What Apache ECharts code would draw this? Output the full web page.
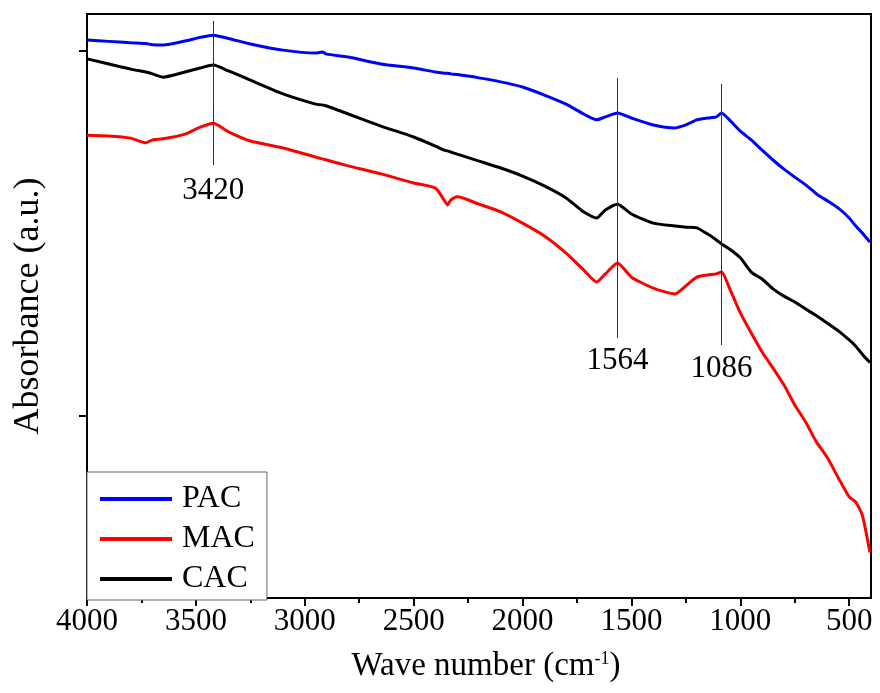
<!DOCTYPE html>
<html>
<head>
<meta charset="utf-8">
<script src="https://cdn.jsdelivr.net/npm/echarts@6/dist/echarts.min.js"></script>
<style>
  html, body { margin: 0; padding: 0; background: #fff; }
  #chart { width: 880px; height: 693px; }
</style>
</head>
<body>
<div id="chart"></div>
<script>
// FTIR spectra of the three activated carbons (absorbance, arbitrary units)
const wavenumbers = [4000, 3900, 3800, 3730, 3700, 3650, 3550, 3480, 3420, 3350, 3250, 3100, 2950, 2920, 2900, 2800, 2650, 2500, 2400, 2360, 2345, 2330, 2300, 2200, 2100, 2000, 1900, 1800, 1720, 1660, 1620, 1564, 1500, 1400, 1300, 1250, 1200, 1150, 1110, 1086, 1050, 1000, 950, 900, 850, 800, 750, 700, 650, 600, 550, 500, 470, 440, 405];

const pac = [1.529, 1.525, 1.521, 1.519, 1.516, 1.515, 1.526, 1.536, 1.542, 1.533, 1.518, 1.501, 1.493, 1.496, 1.490, 1.482, 1.463, 1.452, 1.441, 1.438, 1.438, 1.436, 1.434, 1.425, 1.414, 1.400, 1.378, 1.353, 1.326, 1.310, 1.318, 1.329, 1.315, 1.296, 1.288, 1.296, 1.310, 1.315, 1.318, 1.329, 1.310, 1.279, 1.255, 1.227, 1.200, 1.175, 1.153, 1.132, 1.107, 1.088, 1.068, 1.041, 1.019, 1.000, 0.975];

const mac = [1.268, 1.266, 1.260, 1.247, 1.255, 1.258, 1.271, 1.290, 1.301, 1.277, 1.252, 1.233, 1.208, 1.203, 1.200, 1.184, 1.162, 1.137, 1.123, 1.090, 1.077, 1.090, 1.099, 1.079, 1.058, 1.027, 0.992, 0.945, 0.899, 0.866, 0.888, 0.918, 0.879, 0.849, 0.833, 0.855, 0.879, 0.885, 0.888, 0.893, 0.849, 0.781, 0.726, 0.674, 0.630, 0.584, 0.529, 0.482, 0.427, 0.384, 0.329, 0.277, 0.263, 0.227, 0.125];

const cac = [1.477, 1.463, 1.449, 1.441, 1.436, 1.427, 1.441, 1.452, 1.460, 1.444, 1.419, 1.381, 1.353, 1.351, 1.348, 1.326, 1.293, 1.263, 1.238, 1.227, 1.225, 1.222, 1.216, 1.197, 1.178, 1.156, 1.129, 1.096, 1.058, 1.041, 1.063, 1.079, 1.052, 1.027, 1.019, 1.016, 1.014, 0.997, 0.981, 0.970, 0.956, 0.932, 0.893, 0.874, 0.847, 0.827, 0.811, 0.792, 0.773, 0.753, 0.732, 0.707, 0.690, 0.668, 0.645];

// Assigned bands: vertical guide lines and their labels
const peakPositions = [3420, 1564, 1086];
const peakLineTop = [1.581, 1.425, 1.408];
const peakLineBottom = [1.186, 0.712, 0.693];
const peakLabelY = [1.115, 0.649, 0.627];

const xMajorTicks = [500, 1000, 1500, 2000, 2500, 3000, 3500, 4000];
const xMinorTicks = [750, 1250, 1750, 2250, 2750, 3250, 3750];
const yTicks = [0.5, 1.5];

const serif = 'Liberation Serif';

const pairs = ys => wavenumbers.map((w, i) => [w, ys[i]]);

const chart = echarts.init(document.getElementById('chart'), null, { renderer: 'canvas' });

chart.setOption({
  backgroundColor: '#fff',
  animation: false,
  grid: {
    left: 87, right: 9, top: 14, bottom: 95,
    show: true, borderColor: '#000', borderWidth: 2, backgroundColor: 'transparent'
  },
  legend: {
    data: ['PAC', 'MAC', 'CAC'],
    orient: 'vertical',
    left: 87, top: 472,
    icon: 'rect',
    itemWidth: 72, itemHeight: 4,
    itemGap: 8,
    padding: [11, 12, 5, 13],
    borderColor: '#666', borderWidth: 1,
    backgroundColor: '#fff',
    textStyle: { fontFamily: serif, fontSize: 32, color: '#000', lineHeight: 30, padding: [0, 0, 0, 5] }
  },
  xAxis: [
    {
      type: 'value', min: 400, max: 4000, inverse: true,
      name: 'Wave number (cm{sup|-1})',
      nameLocation: 'middle', nameGap: 52,
      nameTextStyle: {
        fontFamily: serif, fontSize: 33, color: '#000', padding: [0, 0, 0, 14],
        rich: { sup: { fontFamily: serif, fontSize: 18, color: '#000', verticalAlign: 'top', padding: [0, 0, 15, 0] } }
      },
      axisLine: { show: true, onZero: false, lineStyle: { color: '#000', width: 2 } },
      axisTick: { show: true, inside: false, length: 8, customValues: xMajorTicks, lineStyle: { color: '#000', width: 2 } },
      axisLabel: {
        customValues: xMajorTicks, formatter: v => String(v),
        fontFamily: serif, fontSize: 31, color: '#000', margin: 8
      },
      splitLine: { show: false }
    },
    {
      type: 'value', min: 400, max: 4000, inverse: true, position: 'bottom', offset: 0,
      axisLine: { show: false },
      axisTick: { show: true, inside: false, length: 5, customValues: xMinorTicks, lineStyle: { color: '#000', width: 2 } },
      axisLabel: { show: false },
      splitLine: { show: false }
    }
  ],
  yAxis: {
    type: 'value', min: 0, max: 1.6,
    name: 'Absorbance (a.u.)',
    nameLocation: 'middle', nameGap: 40,
    nameTextStyle: { fontFamily: serif, fontSize: 36, color: '#000' },
    axisLine: { show: true, onZero: false, lineStyle: { color: '#000', width: 2 } },
    axisTick: { show: true, inside: false, length: 8, customValues: yTicks, lineStyle: { color: '#000', width: 2 } },
    axisLabel: { show: false },
    splitLine: { show: false }
  },
  series: [
    {
      name: 'PAC', type: 'line', data: pairs(pac), showSymbol: false, smooth: 0.2,
      lineStyle: { color: '#0000ff', width: 3 }, itemStyle: { color: '#0000ff' }, z: 3
    },
    {
      name: 'MAC', type: 'line', data: pairs(mac), showSymbol: false, smooth: 0.2,
      lineStyle: { color: '#ff0000', width: 3 }, itemStyle: { color: '#ff0000' }, z: 3
    },
    {
      name: 'CAC', type: 'line', data: pairs(cac), showSymbol: false, smooth: 0.2,
      lineStyle: { color: '#000000', width: 3 }, itemStyle: { color: '#000000' }, z: 3
    },
    {
      name: 'bands', type: 'line', data: [], silent: true, z: 2,
      markLine: {
        silent: true, symbol: ['none', 'none'], animation: false,
        label: { show: false },
        lineStyle: { color: '#333', width: 1, type: 'solid' },
        data: peakPositions.map((p, i) => [{ coord: [p, peakLineTop[i]] }, { coord: [p, peakLineBottom[i]] }])
      }
    },
    {
      name: 'bandLabels', type: 'scatter', symbolSize: 0, silent: true, z: 4,
      itemStyle: { opacity: 1 },
      data: peakPositions.map((p, i) => [p, peakLabelY[i]]),
      label: {
        show: true, position: 'inside', opacity: 1,
        formatter: p => String(p.value[0]),
        fontFamily: serif, fontSize: 31, color: '#000'
      }
    }
  ]
});
</script>
</body>
</html>
